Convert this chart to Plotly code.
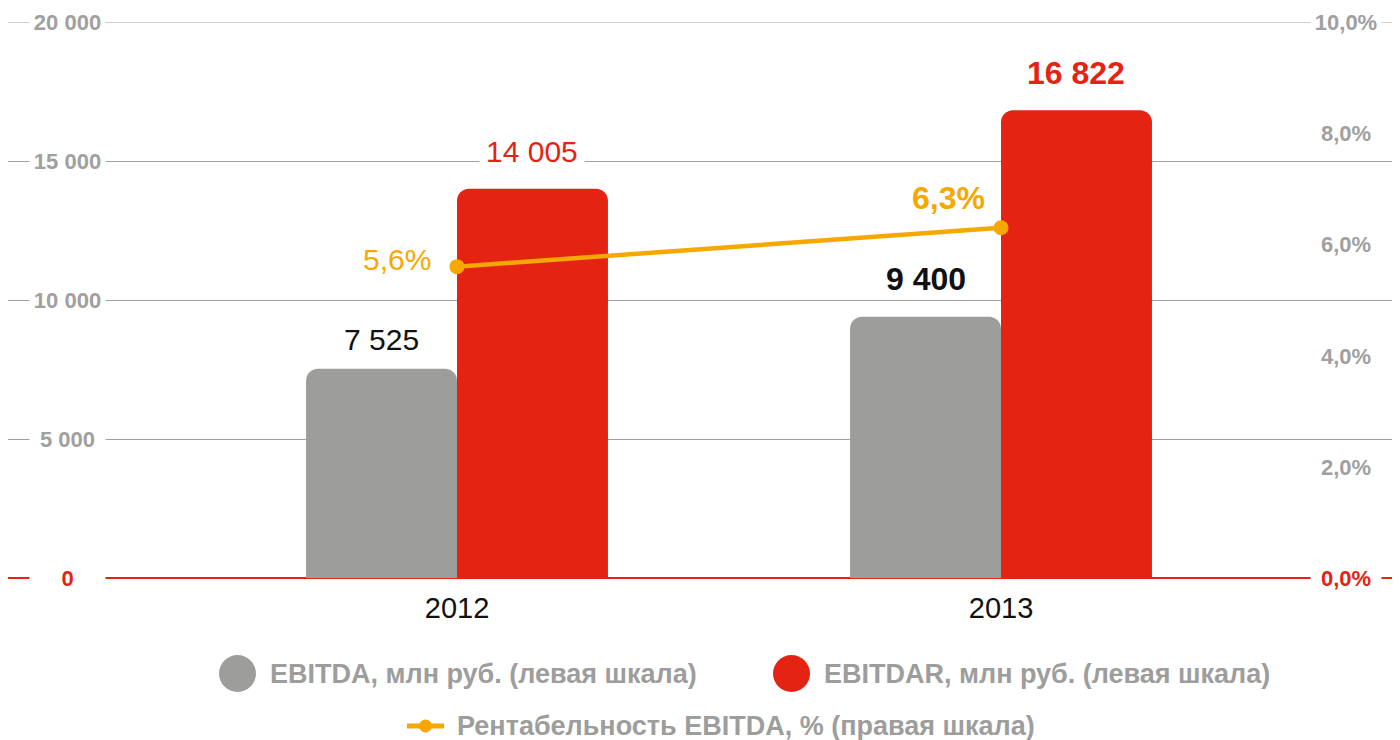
import plotly.graph_objects as go

# ---- data ----
years = ["2012", "2013"]
ebitda = [7525, 9400]
ebitdar = [14005, 16822]
margin_pct = [5.6, 6.3]
left_ticks = [0, 5000, 10000, 15000, 20000]
right_ticks = [0, 2, 4, 6, 8, 10]
legend_names = ["EBITDA, млн руб. (левая шкала)",
                "EBITDAR, млн руб. (левая шкала)",
                "Рентабельность EBITDA, % (правая шкала)"]

# ---- style ----
GRAY = "#9d9d9c"
RED = "#e42313"
ORANGE = "#f6a800"
TICK_GRAY = "#a0a0a0"
GRID = "#a0a0a0"
FONT = "Liberation Sans"
OFF = 8                      # page body margin of the browser
W, H = 1400 - OFF, 740 - OFF
ML, MR, MT, MB = 0, 0, 22 - OFF, H - (578 - OFF)
BARGAP = 0.445
ebitda_bold = [False, True]
ebitdar_bold = [False, True]
pct_bold = [False, True]
bar_label_shift = [[29, 38], [37, 37]]
pct_label_shift = [(-24, 7, "right"), (-14, 30, "right")]

pw, ph = W - ML - MR, H - MT - MB
def px(x):  # page pixel -> paper
    return (x - OFF - ML) / pw
def py(y):
    return (H - MB - (y - OFF)) / ph

def fmt_int(v):
    return f"{v:,}".replace(",", " ")
def fmt_pct(v):
    return f"{v:.1f}".replace(".", ",") + "%"
def b(t, bold):
    return f"<b>{t}</b>" if bold else t

fig = go.Figure()
fig.add_trace(go.Bar(x=years, y=ebitda, name=legend_names[0], marker_color=GRAY,
                     marker_cornerradius=12, marker_line_width=0, showlegend=False))
fig.add_trace(go.Bar(x=years, y=ebitdar, name=legend_names[1], marker_color=RED,
                     marker_cornerradius=12, marker_line_width=0, showlegend=False))
fig.add_trace(go.Scatter(x=years, y=margin_pct, yaxis="y2", mode="lines+markers",
                         name=legend_names[2], line=dict(color=ORANGE, width=4.5),
                         marker=dict(size=15, color=ORANGE), showlegend=False))

ann = []
half = (1 - BARGAP) / 4
for i in range(len(years)):
    ann.append(dict(x=i - half, y=ebitda[i], xref="x", yref="y", text=b(fmt_int(ebitda[i]), ebitda_bold[i]),
                    showarrow=False, yanchor="middle", yshift=bar_label_shift[0][i],
                    font=dict(family=FONT, size=32 if ebitda_bold[i] else 30, color="#111111"),
                    bgcolor="white", borderpad=2))
    ann.append(dict(x=i + half, y=ebitdar[i], xref="x", yref="y", text=b(fmt_int(ebitdar[i]), ebitdar_bold[i]),
                    showarrow=False, yanchor="middle", yshift=bar_label_shift[1][i],
                    font=dict(family=FONT, size=32 if ebitdar_bold[i] else 30, color=RED),
                    bgcolor="white", borderpad=6))
    dx, dy, xa = pct_label_shift[i]
    ann.append(dict(x=i, y=margin_pct[i], xref="x", yref="y2", text=b(fmt_pct(margin_pct[i]), pct_bold[i]),
                    showarrow=False, xanchor=xa, yanchor="middle", xshift=dx, yshift=dy,
                    font=dict(family=FONT, size=32 if pct_bold[i] else 30, color=ORANGE)))

# tick labels (with white gaps in the gridlines)
for t in left_ticks:
    ann.append(dict(x=px(67.5), y=t, xref="paper", yref="y", text=f"<b>{fmt_int(t)}</b>",
                    showarrow=False, xanchor="center", yanchor="middle", width=75, height=26,
                    bgcolor="white", borderpad=0,
                    font=dict(family=FONT, size=22, color=RED if t == 0 else TICK_GRAY)))
for t in right_ticks:
    ann.append(dict(x=px(1346), y=t, xref="paper", yref="y2", text=f"<b>{fmt_pct(t)}</b>",
                    showarrow=False, xanchor="center", yanchor="middle", width=70, height=26,
                    bgcolor="white", borderpad=0,
                    font=dict(family=FONT, size=22, color=RED if t == 0 else TICK_GRAY)))

# legend (manual)
shapes = [dict(type="line", xref="paper", yref="y", x0=0, x1=1, y0=left_ticks[-1], y1=left_ticks[-1],
               line=dict(color=GRID, width=1), layer="below")]
leg = [(237.5, 673.5, GRAY), (791.5, 673.5, RED)]
for (cx, cy, col), name in zip(leg, legend_names[:2]):
    r = 18.5
    shapes.append(dict(type="circle", xref="paper", yref="paper", x0=px(cx - r), x1=px(cx + r),
                       y0=py(cy + r), y1=py(cy - r), fillcolor=col, line_width=0))
    ann.append(dict(x=px(cx + 30), y=py(cy), xref="paper", yref="paper", text=f"<b>{name}</b>",
                    showarrow=False, xanchor="left", yanchor="middle",
                    font=dict(family=FONT, size=27, color=GRAY)))
shapes.append(dict(type="line", xref="paper", yref="paper", x0=px(407), x1=px(444),
                   y0=py(726), y1=py(726), line=dict(color=ORANGE, width=5)))
shapes.append(dict(type="circle", xref="paper", yref="paper", x0=px(419), x1=px(432),
                   y0=py(732.5), y1=py(719.5), fillcolor=ORANGE, line_width=0))
ann.append(dict(x=px(455), y=py(726), xref="paper", yref="paper", text=f"<b>{legend_names[2]}</b>",
                showarrow=False, xanchor="left", yanchor="middle",
                font=dict(family=FONT, size=27, color=GRAY)))

x0 = (0 - (457 - OFF - ML)) / 544
x1 = (pw - (457 - OFF - ML)) / 544
fig.update_layout(
    width=W, height=H, margin=dict(l=ML, r=MR, t=MT, b=MB, autoexpand=False),
    paper_bgcolor="white", plot_bgcolor="white",
    barmode="group", bargap=BARGAP, bargroupgap=0,
    xaxis=dict(type="category", range=[x0, x1], showgrid=False, showline=False, ticks="",
               tickfont=dict(family=FONT, size=29, color="#111111"), ticklabelstandoff=10),
    yaxis=dict(range=[0, 20000], tickvals=left_ticks, showticklabels=False, showgrid=True,
               gridcolor=GRID, gridwidth=1, zeroline=True, zerolinecolor=RED, zerolinewidth=2,
               showline=False, ticks=""),
    yaxis2=dict(range=[0, 10], overlaying="y", side="right", showgrid=False, zeroline=False,
                showticklabels=False, showline=False, ticks=""),
    annotations=ann, shapes=shapes, showlegend=False,
    font=dict(family=FONT),
)
fig.write_html("out.html")
